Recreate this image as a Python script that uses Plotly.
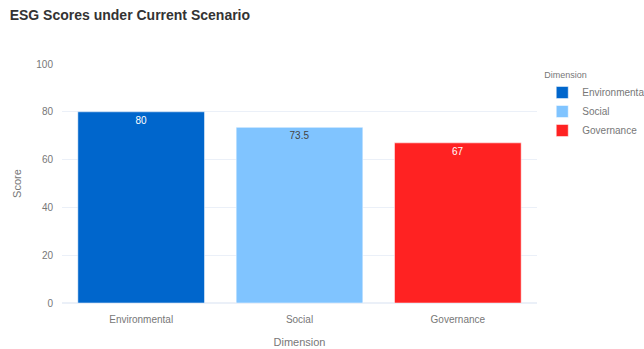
import plotly.graph_objects as go

dimensions = ["Environmental", "Social", "Governance"]
scores = [80, 73.5, 67]
colors = ["#0066CC", "#80C4FF", "#FF2222"]

fig = go.Figure()
for d, s, c in zip(dimensions, scores, colors):
    fig.add_trace(go.Bar(x=[d], y=[s], name=d, marker_color=c, text=[s],
                         textposition="inside", insidetextanchor="end",
                         textfont=dict(size=10)))

fig.update_layout(
    template="plotly_white",
    width=644, height=349,
    barmode="relative",
    bargap=0.2,
    title=dict(text="<b>ESG Scores under Current Scenario</b>", x=0.015, y=0.97,
               yanchor="top", font=dict(size=14, color="#333")),
    font=dict(family="Arial", size=10, color="#777"),
    margin=dict(l=62, r=107, t=64, b=46, autoexpand=False),
    legend=dict(title=dict(text="Dimension", font=dict(size=9)), font=dict(size=10),
                xref="container", yref="container", x=0.842, y=0.81,
                xanchor="left", yanchor="top", tracegroupgap=0),
    xaxis=dict(title=dict(text="Dimension", standoff=14, font=dict(size=11)),
               ticks="outside", ticklen=7, tickcolor="rgba(0,0,0,0)",
               categoryorder="array", categoryarray=dimensions),
    yaxis=dict(title=dict(text="Score", font=dict(size=11), standoff=12),
               ticks="outside", ticklen=6, tickcolor="rgba(0,0,0,0)",
               range=[0, 100], dtick=20),
)
fig.write_html("out.html")
